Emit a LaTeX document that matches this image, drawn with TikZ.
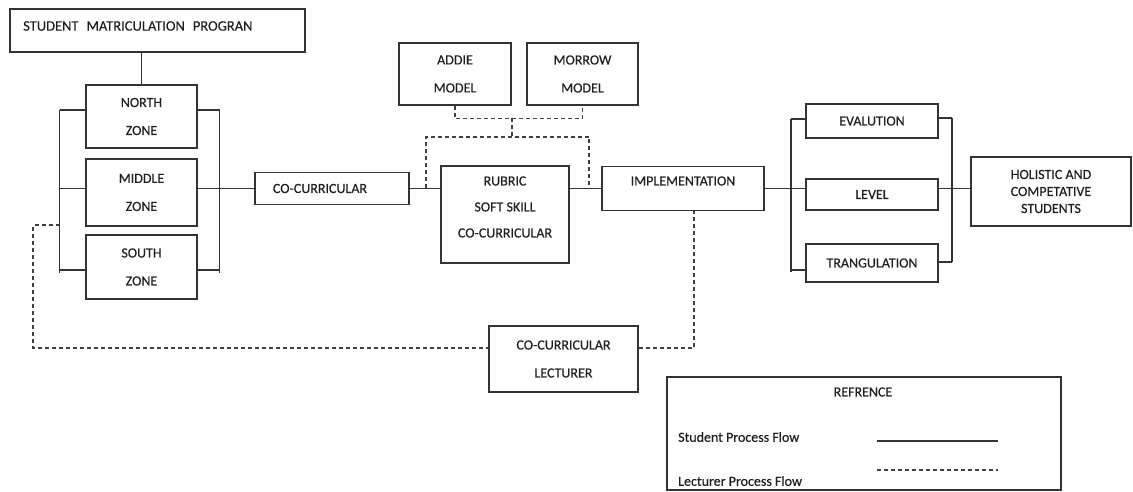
\documentclass[tikz,border=0pt]{standalone}
\usepackage{fontspec}
\setmainfont{Carlito}[FakeBold=0.3]
\begin{document}
\begin{tikzpicture}[x=1pt,y=-1pt,
  every node/.style={font=\fontsize{14}{28}\selectfont, text=black!88, inner sep=0pt},
  box/.style={draw=black!80, line width=1.3pt, align=center},
  link/.style={draw=black!80, line width=1.3pt},
  lect/.style={draw=black!75, line width=1.2pt, dash pattern=on 4pt off 3pt},
  ]
\fill[white] (0,0) rectangle (1133,492);
\useasboundingbox (0,0) rectangle (1133,492);

% programme and zones
\node[box, minimum width=295pt, minimum height=43pt] (smp) at (157.5,30.5) {};
\node[anchor=west, font=\fontsize{14.5}{28}\selectfont] (smp-t) at (23,26) {STUDENT\hspace{8pt}MATRICULATION\hspace{8pt}PROGRAN};
\node[box, minimum width=111pt, minimum height=63pt] (north) at (141.5,116.5) {NORTH\\ZONE};
\node[box, minimum width=111pt, minimum height=67pt] (middle) at (141.5,192.5) {MIDDLE\\ZONE};
\node[box, minimum width=111pt, minimum height=64pt] (south) at (141.5,267) {SOUTH\\ZONE};

% main chain
\node[box, minimum width=154pt, minimum height=32pt] (cocur) at (332,188.5) {CO-CURRICULAR\rule{24pt}{0pt}};
\node[box, minimum width=128pt, minimum height=97pt] (rubric) at (505,214.5) {};
\node[font=\fontsize{14}{26}\selectfont, align=center] (rubric-t) at (505,207) {RUBRIC\\SOFT SKILL\\CO-CURRICULAR};
\node[box, minimum width=112pt, minimum height=62pt] (addie) at (455,74) {ADDIE\\MODEL};
\node[box, minimum width=111pt, minimum height=62pt] (morrow) at (582.5,74) {MORROW\\MODEL};
\node[box, minimum width=162pt, minimum height=44pt] (impl) at (683,188.5) {};
\node (impl-t) at (683,181) {IMPLEMENTATION};

% outcomes
\node[box, minimum width=132pt, minimum height=34pt] (eval) at (872,121) {EVALUTION};
\node[box, minimum width=132pt, minimum height=31pt] (level) at (872,194.5) {LEVEL};
\node[box, minimum width=132pt, minimum height=38pt] (trang) at (872,263) {TRANGULATION};
\node[box, minimum width=160pt, minimum height=69pt, font=\fontsize{14}{17}\selectfont] (hol) at (1051,191.5) {HOLISTIC AND\\COMPETATIVE\\STUDENTS};

% lecturer
\node[box, minimum width=149pt, minimum height=66pt] (lect) at (563.5,359) {CO-CURRICULAR\\LECTURER};

% legend
\node[box, minimum width=394pt, minimum height=113pt] (ref) at (864,433.5) {};
\node (ref-t) at (863,392) {REFRENCE};
\node[anchor=west] (ref-s) at (678,437) {Student Process Flow};
\node[anchor=west] (ref-l) at (678,481) {Lecturer Process Flow};
\coordinate (ss) at (877,441); \coordinate (se) at (998,441);
\coordinate (ls) at (877,470); \coordinate (le) at (998,470);
\draw[link] (ss) -- (se);
\draw[lect] (ls) -- (le);

% programme to zones
\draw[link] (smp.south -| north.north) -- (north.north);
\coordinate (lbt) at (59.5,110); \coordinate (lbb) at (59.5,273);
\coordinate (lbm) at (59.5,188.5); \coordinate (lbs) at (59.5,270);
\draw[link] (lbt) -- (lbb);
\draw[link] (lbt) -- (lbt -| north.west);
\draw[link] (lbm) -- (lbm -| middle.west);
\draw[link] (lbs) -- (lbs -| south.west);
\coordinate (rbt) at (219.5,110); \coordinate (rbb) at (219.5,273);
\coordinate (rbm) at (219.5,188.5); \coordinate (rbs) at (219.5,270);
\draw[link] (rbt) -- (rbb);
\draw[link] (rbt) -- (rbt -| north.east);
\draw[link] (middle.east |- rbm) -- (cocur.west);
\draw[link] (rbs) -- (rbs -| south.east);

% student flow
\draw[link] (cocur.east) -- (cocur.east -| rubric.west);
\draw[link] (rubric.east |- impl.west) -- (impl.west);
\draw[link] (impl.east) -- (impl.east -| level.west);
\draw[link] (level.east |- impl.east) -- (hol.west |- impl.east);
\coordinate (elt) at (791,119); \coordinate (elb) at (791,272); \coordinate (els) at (791,270);
\draw[link] (elt) -- (elb);
\draw[link] (elt) -- (elt -| eval.west);
\draw[link] (els) -- (els -| trang.west);
\coordinate (ert) at (952,118); \coordinate (erb) at (952,262);
\draw[link] (ert) -- (erb);
\draw[link] (ert) -- (ert -| eval.east);
\draw[link] (erb) -- (erb -| trang.east);

% models feeding the rubric
\draw[lect] (addie.south) -- ++(0,13) -| (morrow.south);
\coordinate (mtop) at (512,118); \coordinate (mbot) at (512,137);
\draw[lect] (mtop) -- (mbot);
\coordinate (dl) at (426,188.5); \coordinate (dr) at (589,188.5);
\draw[lect] (dl) |- (mbot) -| (dr);

% lecturer flow
\coordinate (lbd) at (59.5,225); \coordinate (lc) at (33,348);
\draw[lect] (lbd) -| (lc) -- (lc -| lect.west);
\draw[lect] (lect.east |- lc) -| ([xshift=11pt]impl.south);
\end{tikzpicture}
\end{document}
